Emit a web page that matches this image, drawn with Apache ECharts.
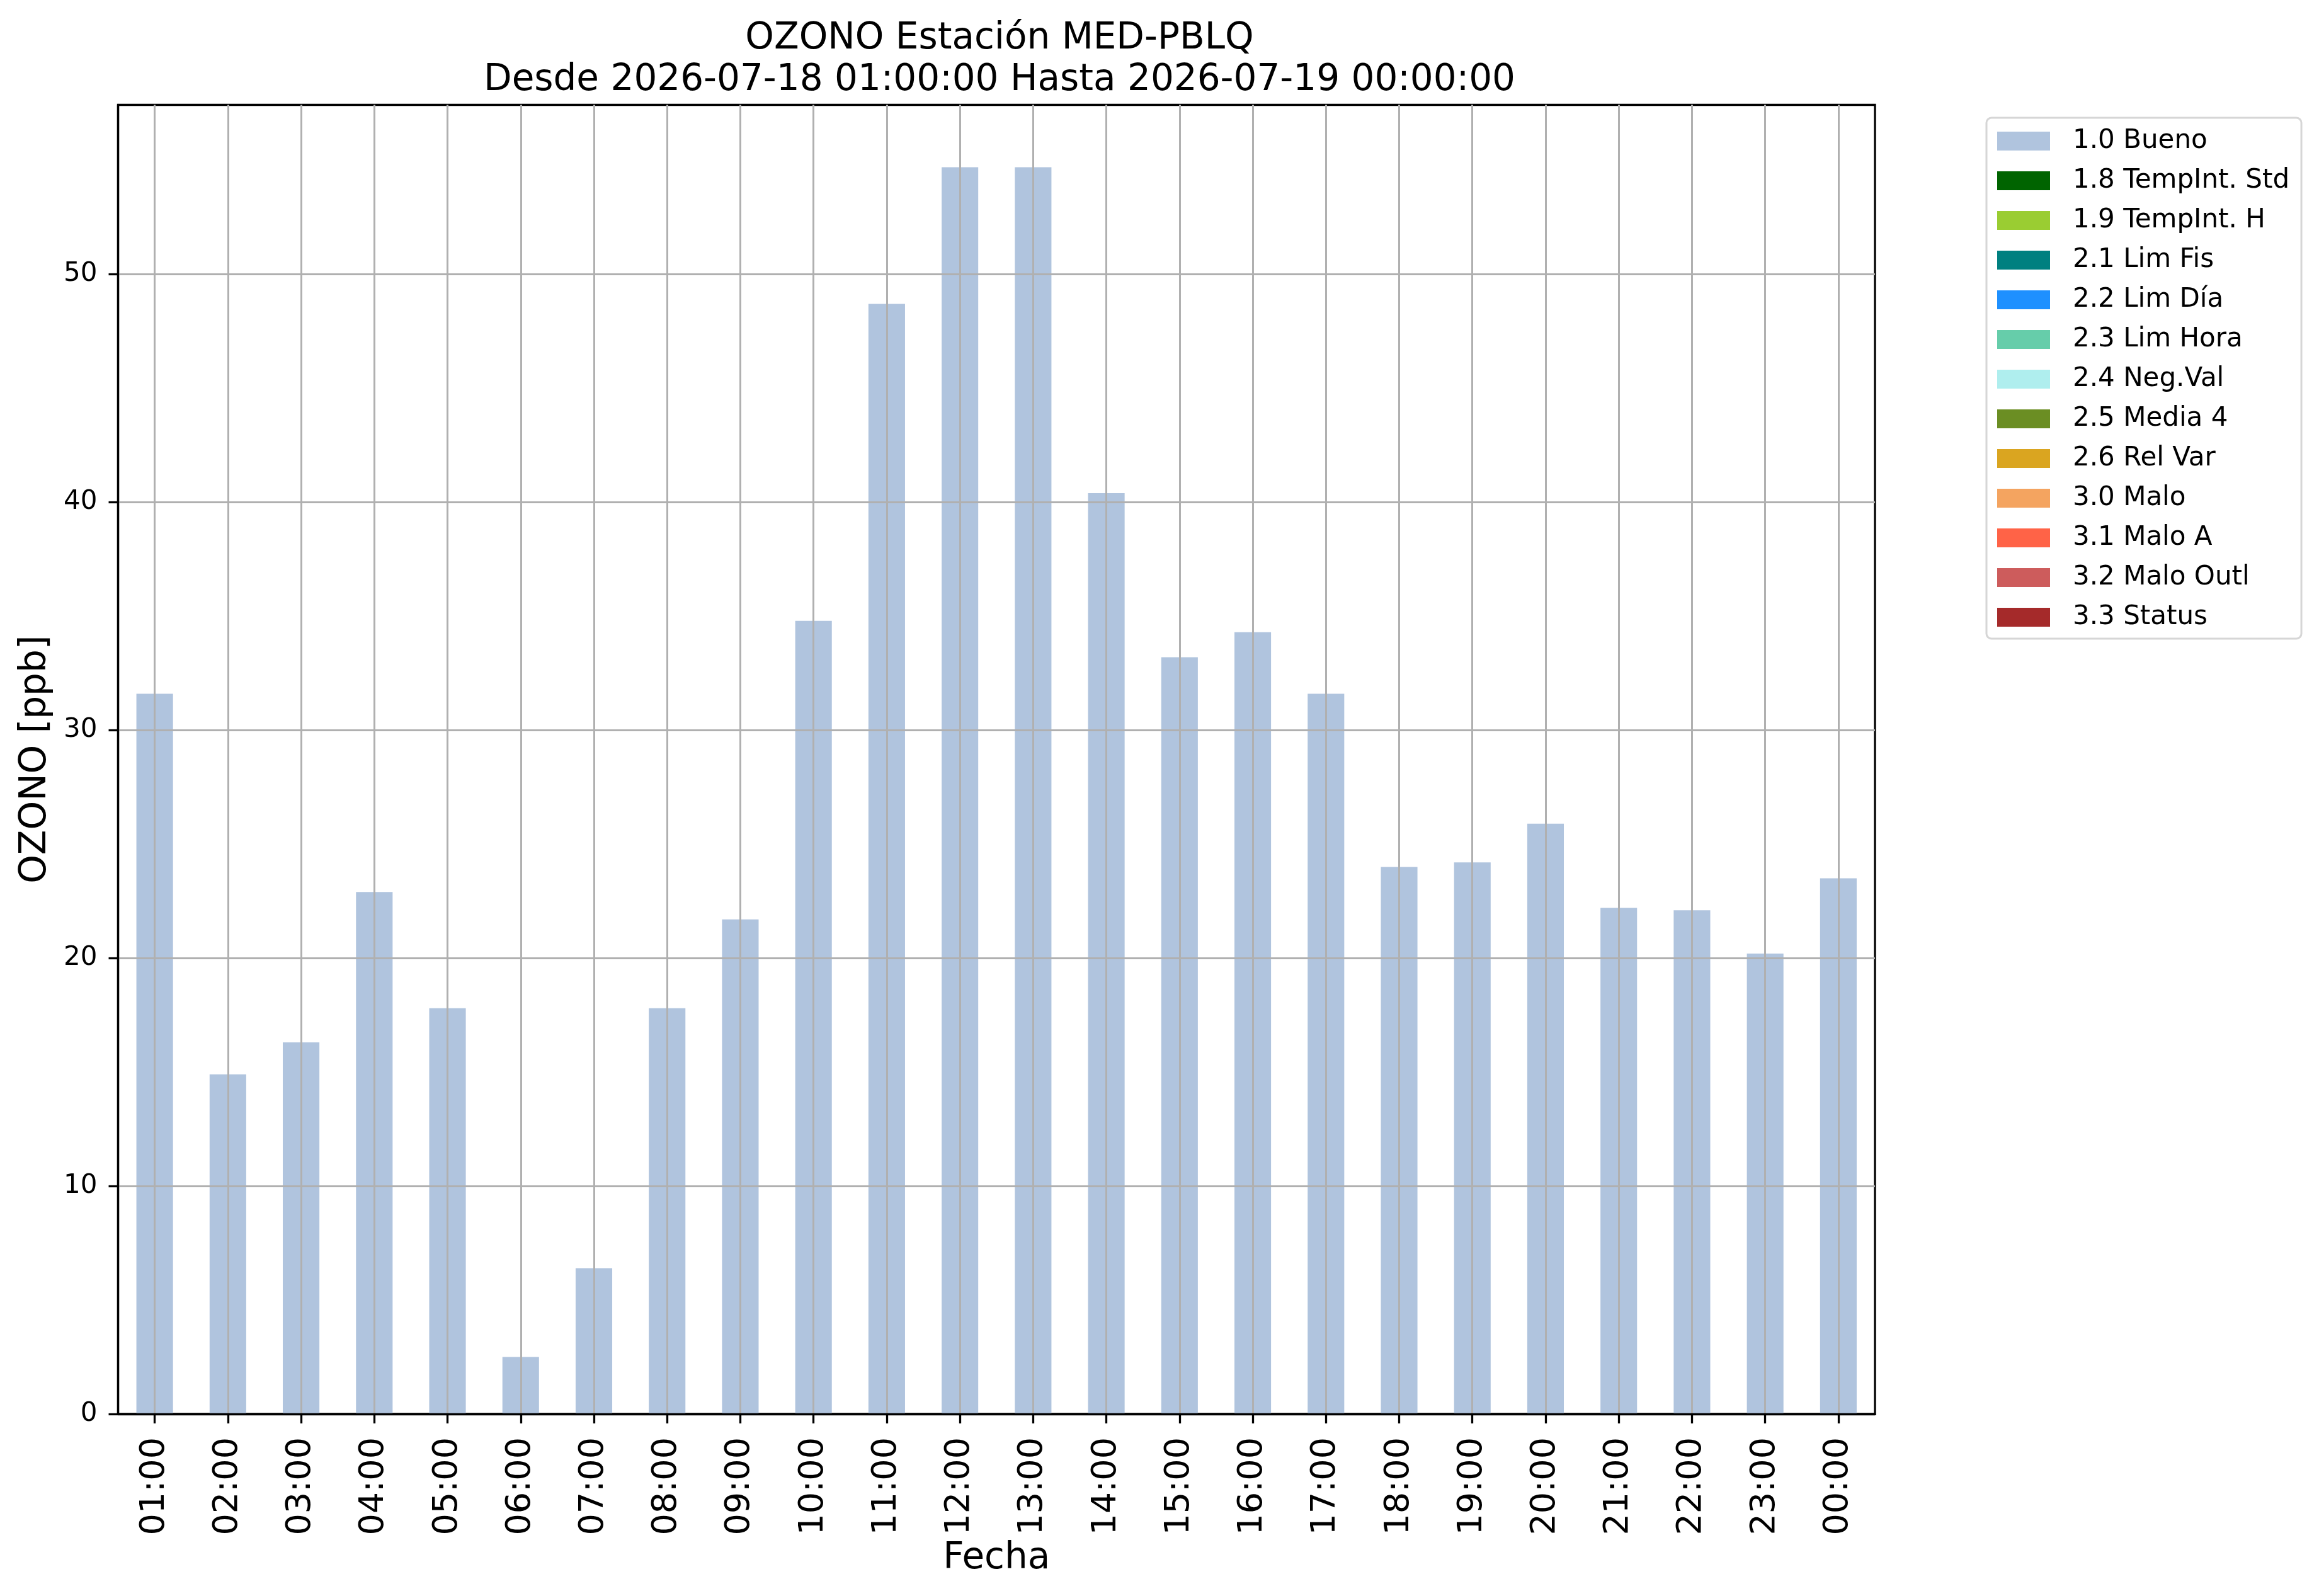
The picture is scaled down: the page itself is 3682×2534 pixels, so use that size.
<!DOCTYPE html>
<html>
<head>
<meta charset="utf-8">
<script src="https://cdn.jsdelivr.net/npm/echarts@6/dist/echarts.min.js"></script>
<style>
html,body{margin:0;padding:0;background:#fff;}
#chart{width:3682px;height:2534px;}
</style>
</head>
<body>
<div id="chart"></div>
<script>
// ---- data ----
const titleLine1 = 'OZONO Estación MED-PBLQ';
const titleLine2 = 'Desde 2026-07-18 01:00:00 Hasta 2026-07-19 00:00:00';
const yAxisName = 'OZONO [ppb]';
const xAxisName = 'Fecha';
const categories = ['01:00','02:00','03:00','04:00','05:00','06:00','07:00','08:00','09:00','10:00','11:00','12:00',
                    '13:00','14:00','15:00','16:00','17:00','18:00','19:00','20:00','21:00','22:00','23:00','00:00'];
const ozoneBueno = [31.6, 14.9, 16.3, 22.9, 17.8, 2.5, 6.4, 17.8, 21.7, 34.8, 48.7, 54.7,
                    54.7, 40.4, 33.2, 34.3, 31.6, 24.0, 24.2, 25.9, 22.2, 22.1, 20.2, 23.5];
const flagNames = ['1.0 Bueno','1.8 TempInt. Std','1.9 TempInt. H','2.1 Lim Fis','2.2 Lim Día','2.3 Lim Hora',
                   '2.4 Neg.Val','2.5 Media 4','2.6 Rel Var','3.0 Malo','3.1 Malo A','3.2 Malo Outl','3.3 Status'];
const flagColors = ['#B0C4DE','#006400','#9ACD32','#008080','#1E90FF','#66CDAA',
                    '#AFEEEE','#6B8E23','#DAA520','#F4A460','#FF6347','#CD5C5C','#A52A2A'];
const yTicks = [0, 10, 20, 30, 40, 50];
const yMax = 57.435;

// ---- chart ----
const FONT = 'DejaVu Sans';
const chart = echarts.init(document.getElementById('chart'), null, {renderer: 'canvas'});

// positions (indices) of the category centres, used for the vertical grid overlay
const categoryIndex = categories.map((c, i) => i);

const series = flagNames.map((name, i) => ({
  name: name,
  type: 'bar',
  stack: 'flags',
  barWidth: '50%',
  xAxisIndex: 0,
  yAxisIndex: 0,
  data: i === 0 ? ozoneBueno : [],
  itemStyle: {color: flagColors[i]},
  z: 2,
  animation: false
}));

const option = {
  animation: false,
  backgroundColor: '#ffffff',
  textStyle: {fontFamily: FONT},
  title: {
    text: titleLine1 + '\n' + titleLine2,
    left: 1582,
    top: 24,
    textAlign: 'center',
    textStyle: {fontFamily: FONT, fontSize: 58, fontWeight: 'normal', color: '#000', lineHeight: 66}
  },
  legend: {
    orient: 'vertical',
    left: 3154,
    top: 187,
    padding: [16, 19, 13, 17],
    itemWidth: 84,
    itemHeight: 30,
    itemGap: 21,
    icon: 'rect',
    selectedMode: false,
    backgroundColor: '#ffffff',
    borderColor: '#d6d6d6',
    borderWidth: 3,
    borderRadius: 8,
    data: flagNames,
    textStyle: {fontFamily: FONT, fontSize: 42, color: '#000', lineHeight: 42, padding: [0, 0, 0, 31]}
  },
  grid: {
    left: 187.5, right: 705, top: 166.5, bottom: 289,
    containLabel: false,
    show: true,
    borderColor: '#000',
    borderWidth: 3.3,
    backgroundColor: 'transparent'
  },
  xAxis: [{
    type: 'category',
    data: categories,
    boundaryGap: true,
    z: 6,
    name: xAxisName,
    nameLocation: 'middle',
    nameGap: 190,
    nameTextStyle: {fontFamily: FONT, fontSize: 58, color: '#000'},
    axisLine: {show: true, onZero: false, lineStyle: {color: '#000', width: 3.3}},
    axisTick: {show: true, alignWithLabel: true, length: 15, lineStyle: {color: '#000', width: 3.3}},
    axisLabel: {rotate: 90, margin: 37, fontFamily: FONT, fontSize: 54, color: '#000', interval: 0},
    splitLine: {show: false}
  }, {
    // overlay axis only for vertical grid lines at category centres
    type: 'value',
    position: 'bottom',
    min: -0.5,
    max: categories.length - 0.5,
    z: 5,
    axisLine: {show: false, onZero: false},
    axisTick: {show: false, customValues: categoryIndex},
    axisLabel: {show: false, customValues: categoryIndex},
    splitLine: {show: true, lineStyle: {color: '#b0b0b0', width: 3}}
  }],
  yAxis: {
    type: 'value',
    min: 0,
    max: yMax,
    interval: 10,
    z: 6,
    name: yAxisName,
    nameLocation: 'middle',
    nameGap: 102,
    nameRotate: 90,
    nameTextStyle: {fontFamily: FONT, fontSize: 58, color: '#000'},
    axisLine: {show: true, onZero: false, lineStyle: {color: '#000', width: 3.3}},
    axisTick: {show: true, length: 15, customValues: yTicks, lineStyle: {color: '#000', width: 3.3}},
    axisLabel: {margin: 33, fontFamily: FONT, fontSize: 42, color: '#000', customValues: yTicks},
    splitLine: {show: true, lineStyle: {color: '#b0b0b0', width: 3}}
  },
  series: series
};

chart.setOption(option);
</script>
</body>
</html>
